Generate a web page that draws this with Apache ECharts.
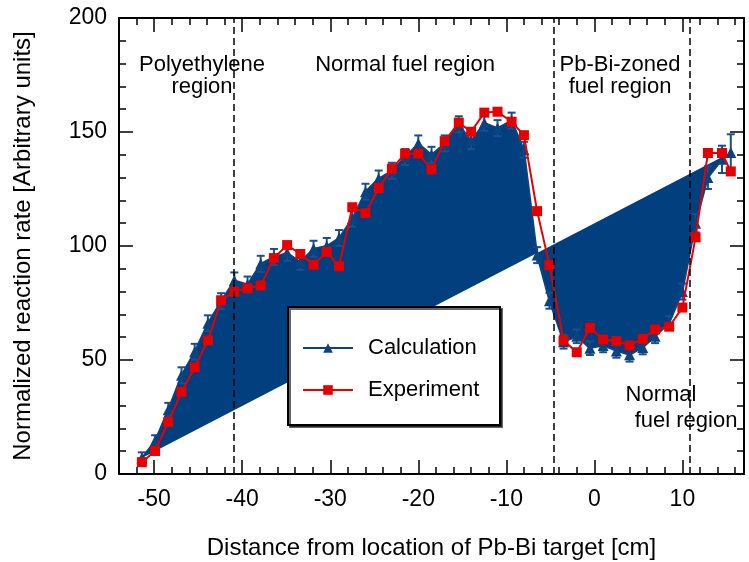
<!DOCTYPE html>
<html>
<head>
<meta charset="utf-8">
<script src="https://cdn.jsdelivr.net/npm/echarts@6/dist/echarts.min.js"></script>
<style>
  html, body { margin: 0; padding: 0; background: #fff; }
  #chart { width: 749px; height: 562px; }
</style>
</head>
<body>
<div id="chart"></div>
<script>
// Measurement positions along the core axis [cm]
const positions = [
  -51.4, -49.9, -48.4, -46.9, -45.4, -43.9, -42.4, -40.9, -39.4, -37.9,
  -36.4, -34.9, -33.4, -31.9, -30.4, -29.0, -27.5, -26.0, -24.5, -23.0,
  -21.5, -20.0, -18.5, -17.0, -15.4, -14.0, -12.5, -11.0, -9.4, -8.0,
  -6.5, -5.1, -3.5, -2.0, -0.5, 1.0, 2.5, 4.0, 5.5, 6.9,
  8.5, 10.0, 11.5, 12.9, 14.5, 15.5
];

// Calculated reaction rate and its uncertainty
const calculation = [
  7.0, 14.5, 28.2, 43.3, 53.6, 66.1, 75.8, 84.9, 83.1, 92.2,
  95.2, 97.0, 93.0, 98.8, 100.0, 103.5, 112.0, 123.8, 129.6, 133.0,
  139.0, 145.0, 140.0, 145.0, 153.4, 146.0, 154.0, 151.7, 155.0, 142.2,
  96.0, 76.0, 58.0, 60.4, 55.2, 56.4, 54.0, 52.3, 55.5, 60.4,
  66.2, 80.0, 110.0, 130.0, 138.0, 141.0
];
const calcError = [
  2.5, 2.5, 3.0, 3.5, 3.5, 3.5, 3.5, 3.5, 3.5, 3.5,
  3.5, 3.5, 3.5, 3.5, 3.5, 3.5, 3.5, 3.5, 3.5, 3.5,
  3.5, 3.5, 3.5, 3.5, 3.5, 3.5, 3.5, 3.5, 3.5, 3.5,
  3.5, 3.5, 3.0, 3.0, 3.0, 3.0, 3.0, 3.0, 3.0, 3.0,
  3.0, 3.5, 4.0, 5.0, 6.0, 8.0
];

// Measured reaction rate
const experiment = [
  5.2, 10.1, 22.8, 36.0, 46.8, 58.6, 76.2, 80.0, 81.5, 82.7,
  94.7, 100.4, 96.5, 91.8, 97.4, 91.1, 117.0, 114.4, 125.4, 133.9,
  140.5, 140.5, 133.6, 146.0, 154.1, 150.1, 158.5, 158.9, 154.5, 148.6,
  115.3, 91.6, 58.6, 53.4, 64.1, 59.0, 58.3, 56.4, 59.3, 63.4,
  64.6, 73.0, 103.8, 140.8, 140.8, 132.7
];

// Region boundaries [cm]
const boundaries = [-41.0, -4.6, 10.85];

const FONT = '"Liberation Sans", Arial, Helvetica, sans-serif';
const FILL = '#013f7e';
const BLUE = '#1a4f8f';
const MARK = '#0b437f';
const RED = '#e60000';

const chart = echarts.init(document.getElementById('chart'));

const minorX = (pos) => ({
  type: 'value', position: pos, min: -54, max: 17, interval: 2,
  axisLine: { show: true, onZero: false, lineStyle: { color: '#000', width: 2 } },
  axisTick: { show: true, inside: true, length: 7, lineStyle: { color: '#000', width: 1.5 } },
  axisLabel: { show: false },
  splitLine: { show: false }
});
const majorX = (pos, labels) => ({
  type: 'value', position: pos, min: -54, max: 17, splitNumber: 7,
  axisLine: { show: false, onZero: false },
  axisTick: { show: true, inside: true, length: 14, lineStyle: { color: '#000', width: 1.5 } },
  axisLabel: {
    show: labels, color: '#000', fontSize: 23, fontFamily: FONT, margin: 14,
    formatter: (v) => (Math.abs(v % 10) < 1e-9 ? String(v) : '')
  },
  splitLine: { show: false }
});

const yAxisBase = (pos, labels) => ({
  type: 'value', position: pos, min: 0, max: 200, interval: 50,
  axisLine: { show: true, onZero: false, lineStyle: { color: '#000', width: 2 } },
  axisTick: { show: true, inside: true, length: 14, lineStyle: { color: '#000', width: 1.5 } },
  minorTick: { show: true, splitNumber: 5, length: 7, lineStyle: { color: '#000', width: 1.5 } },
  axisLabel: { show: labels, color: '#000', fontSize: 23, fontFamily: FONT, margin: 12 },
  splitLine: { show: false }
});

const xBottom = majorX('bottom', true);
xBottom.name = 'Distance from location of Pb-Bi target [cm]';
xBottom.nameLocation = 'middle';
xBottom.nameGap = 62;
xBottom.nameTextStyle = { color: '#000', fontSize: 24, fontFamily: FONT };

const yLeft = yAxisBase('left', true);
yLeft.name = 'Normalized reaction rate [Arbitrary units]';
yLeft.nameLocation = 'middle';
yLeft.nameGap = 84;
yLeft.nameTextStyle = { color: '#000', fontSize: 24, fontFamily: FONT };

const regionText = (text, x, y) => ({
  type: 'text', z: 10,
  style: {
    text: text, x: x, y: y, fill: '#000', font: '22px ' + FONT,
    align: 'center', verticalAlign: 'middle',
    textAlign: 'center', textVerticalAlign: 'middle'
  }
});

chart.setOption({
  animation: false,
  grid: { left: 119, right: 5, top: 18, bottom: 88, containLabel: false, outerBoundsMode: 'none' },
  xAxis: [minorX('bottom'), xBottom, minorX('top'), majorX('top', false)],
  yAxis: [yLeft, yAxisBase('right', false)],
  legend: {
    data: ['Calculation', 'Experiment'],
    orient: 'vertical', left: 297, top: 332,
    itemWidth: 50, itemHeight: 12, itemGap: 20,
    textStyle: { color: '#000', fontSize: 22, fontFamily: FONT, padding: [0, 0, 0, 10] },
    z: 12
  },
  graphic: [
    {
      type: 'rect', z: 11,
      shape: { x: 288, y: 307, width: 212, height: 118 },
      style: { fill: '#fff', stroke: '#000', lineWidth: 2, shadowColor: 'rgba(0,0,0,0.6)', shadowOffsetX: 2, shadowOffsetY: 2, shadowBlur: 0 }
    },
    regionText('Polyethylene', 202, 65),
    regionText('region', 202, 87),
    regionText('Normal fuel region', 405, 65),
    regionText('Pb-Bi-zoned', 620, 65),
    regionText('fuel region', 620, 87),
    regionText('Normal', 661, 395),
    regionText('fuel region', 686, 421)
  ],
  series: [
    {
      // Closed outline of the calculated profile
      name: 'CalculationFill', type: 'custom', xAxisIndex: 0, yAxisIndex: 0, z: 1,
      silent: true,
      data: [[positions[0], calculation[0]]],
      renderItem: function (params, api) {
        const pts = positions.map((x, i) => api.coord([x, calculation[i]]));
        return { type: 'polygon', shape: { points: pts }, style: { fill: FILL } };
      }
    },
    {
      // Uncertainty bars of the calculation
      name: 'CalculationError', type: 'custom', xAxisIndex: 0, yAxisIndex: 0, z: 2,
      silent: true,
      encode: { x: 0, y: [1, 2] },
      data: positions.map((x, i) => [x, calculation[i] - calcError[i], calculation[i] + calcError[i]]),
      renderItem: function (params, api) {
        const x = api.value(0);
        const lo = api.coord([x, api.value(1)]);
        const hi = api.coord([x, api.value(2)]);
        const w = 4;
        const st = { stroke: BLUE, lineWidth: 2 };
        return {
          type: 'group',
          children: [
            { type: 'line', shape: { x1: lo[0], y1: lo[1], x2: hi[0], y2: hi[1] }, style: st },
            { type: 'line', shape: { x1: hi[0] - w, y1: hi[1], x2: hi[0] + w, y2: hi[1] }, style: st },
            { type: 'line', shape: { x1: lo[0] - w, y1: lo[1], x2: lo[0] + w, y2: lo[1] }, style: st }
          ]
        };
      }
    },
    {
      name: 'Calculation', type: 'line', xAxisIndex: 0, yAxisIndex: 0, z: 3,
      data: positions.map((x, i) => [x, calculation[i]]),
      symbol: 'triangle', symbolSize: 11,
      lineStyle: { color: MARK, width: 2 },
      itemStyle: { color: MARK }
    },
    {
      name: 'Experiment', type: 'line', xAxisIndex: 0, yAxisIndex: 0, z: 4,
      data: positions.map((x, i) => [x, experiment[i]]),
      symbol: 'rect', symbolSize: 10,
      lineStyle: { color: RED, width: 2 },
      itemStyle: { color: RED },
      markLine: {
        silent: true, symbol: ['none', 'none'],
        label: { show: false },
        lineStyle: { color: '#000', type: [7, 4], width: 1.5 },
        data: boundaries.map((v) => ({ xAxis: v }))
      }
    }
  ]
});
</script>
</body>
</html>
